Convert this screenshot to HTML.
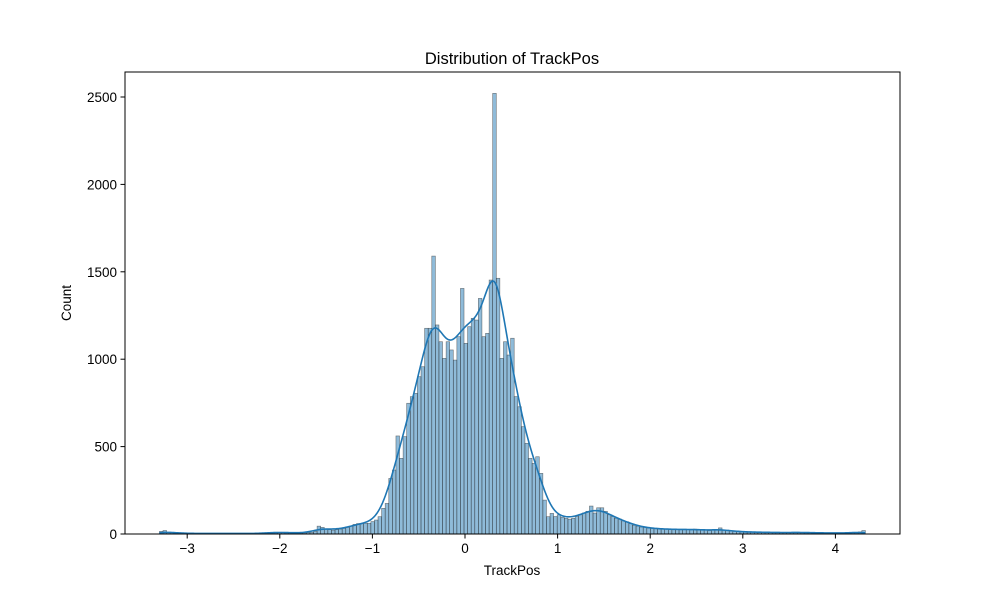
<!DOCTYPE html>
<html><head><meta charset="utf-8"><style>
body{margin:0;background:#fff;}
svg{display:block;font-family:"Liberation Sans","DejaVu Sans",sans-serif;}
</style></head><body>
<svg id="chart" width="1000" height="600">
<rect width="1000" height="600" fill="#fff"/>
<text x="512" y="64" text-anchor="middle" font-size="16.5">Distribution of TrackPos</text>
<g id="bars"></g>
<path id="kde" fill="none" stroke="#1f77b4" stroke-width="1.6"/>
<rect x="125" y="72" width="775" height="462" fill="none" stroke="#000" stroke-width="1"/>
<g id="xt"></g>
<g id="yt"></g>
<text x="512" y="575" text-anchor="middle" font-size="13.5">TrackPos</text>
<text x="0" y="0" transform="translate(71,303) rotate(-90)" text-anchor="middle" font-size="13.5">Count</text>
</svg>
<script>
const binStart = -3.30;
const binWidth = 0.0387;
const counts = [
15,20,10,8,6,5,5,4,4,3, 3,3,3,3,3,3,3,3,3,3, 3,3,3,3,3,3,3,3,4,5,7, 9,10,10,10,9,8,6,5,5,6,
8,10,15,45,38,30,25,22,25,28, 32,38,45,55,60,60,
61,61,71,80,99,147,175,318,366,561,433,557,748,786,805,900,957,1177,1177,1590,1196,1100,1005,1100,1053,995,1129,1405,1091,1186,1234,1224,1348,1129,1148,1453,2521,1463,1005,1100,1024,1120,786,728,614,519,433,404,442,347,194,99,118,
100,110,95,90,85,90,100,110,120,130,160,120,150,150,130,110,100,90,85,75,70,60,50,45,40,38,35,32,30,30,
28,28,27,27,26,26,25,25,27,28,25,22,22,20,22,25,35,22,20,18,
15,14,13,12,12,11,10,10,10,10,9,9,9,8,8,8,8,10,10,9,8,8,7,7,7,6,6,6,6,6,5,5,6,8,10,12,20
];
const xTicks = [-3,-2,-1,0,1,2,3,4];
const yTicks = [0,500,1000,1500,2000,2500];
const xs = v => 465 + (v)*92.6;
const ys = v => 534 - v*(437/2500);
const NS="http://www.w3.org/2000/svg";
const bars=document.getElementById('bars');
counts.forEach((c,i)=>{
  const x0=xs(binStart+i*binWidth), x1=xs(binStart+(i+1)*binWidth);
  const r=document.createElementNS(NS,'rect');
  r.setAttribute('x',x0);r.setAttribute('width',x1-x0);
  r.setAttribute('y',ys(c));r.setAttribute('height',534-ys(c));
  r.setAttribute('fill','rgba(31,119,180,0.5)');r.setAttribute('stroke','rgba(40,40,40,0.6)');r.setAttribute('stroke-width','0.6');
  
  
  bars.appendChild(r);
});
// KDE
const bw=0.095;
let d='';
const lo=binStart, hi=binStart+counts.length*binWidth;
for(let k=0;k<=500;k++){
  const x=lo+(hi-lo)*k/500;let s=0;
  counts.forEach((c,i)=>{const m=binStart+(i+0.5)*binWidth;const z=(x-m)/bw;s+=c*Math.exp(-0.5*z*z);});
  const dens=s/(bw*Math.sqrt(2*Math.PI));
  const y=dens*binWidth;
  d+=(k?'L':'M')+xs(x).toFixed(2)+','+ys(y).toFixed(2);
}
document.getElementById('kde').setAttribute('d',d);
const xt=document.getElementById('xt');
xTicks.forEach(t=>{
  const g=document.createElementNS(NS,'g');
  
  
  g.innerHTML=`<line x1="${xs(t)}" x2="${xs(t)}" y1="534" y2="538.5" stroke="#000"/><text x="${xs(t)}" y="553" text-anchor="middle" font-size="13.5">${t<0?'\u2212'+(-t):t}</text>`;
  xt.appendChild(g);
});
const yt=document.getElementById('yt');
yTicks.forEach(t=>{
  const g=document.createElementNS(NS,'g');
  
  
  g.innerHTML=`<line x1="120.5" x2="125" y1="${ys(t)}" y2="${ys(t)}" stroke="#000"/><text x="117" y="${ys(t)+5}" text-anchor="end" font-size="13.5">${t}</text>`;
  yt.appendChild(g);
});
</script>
</body></html>
